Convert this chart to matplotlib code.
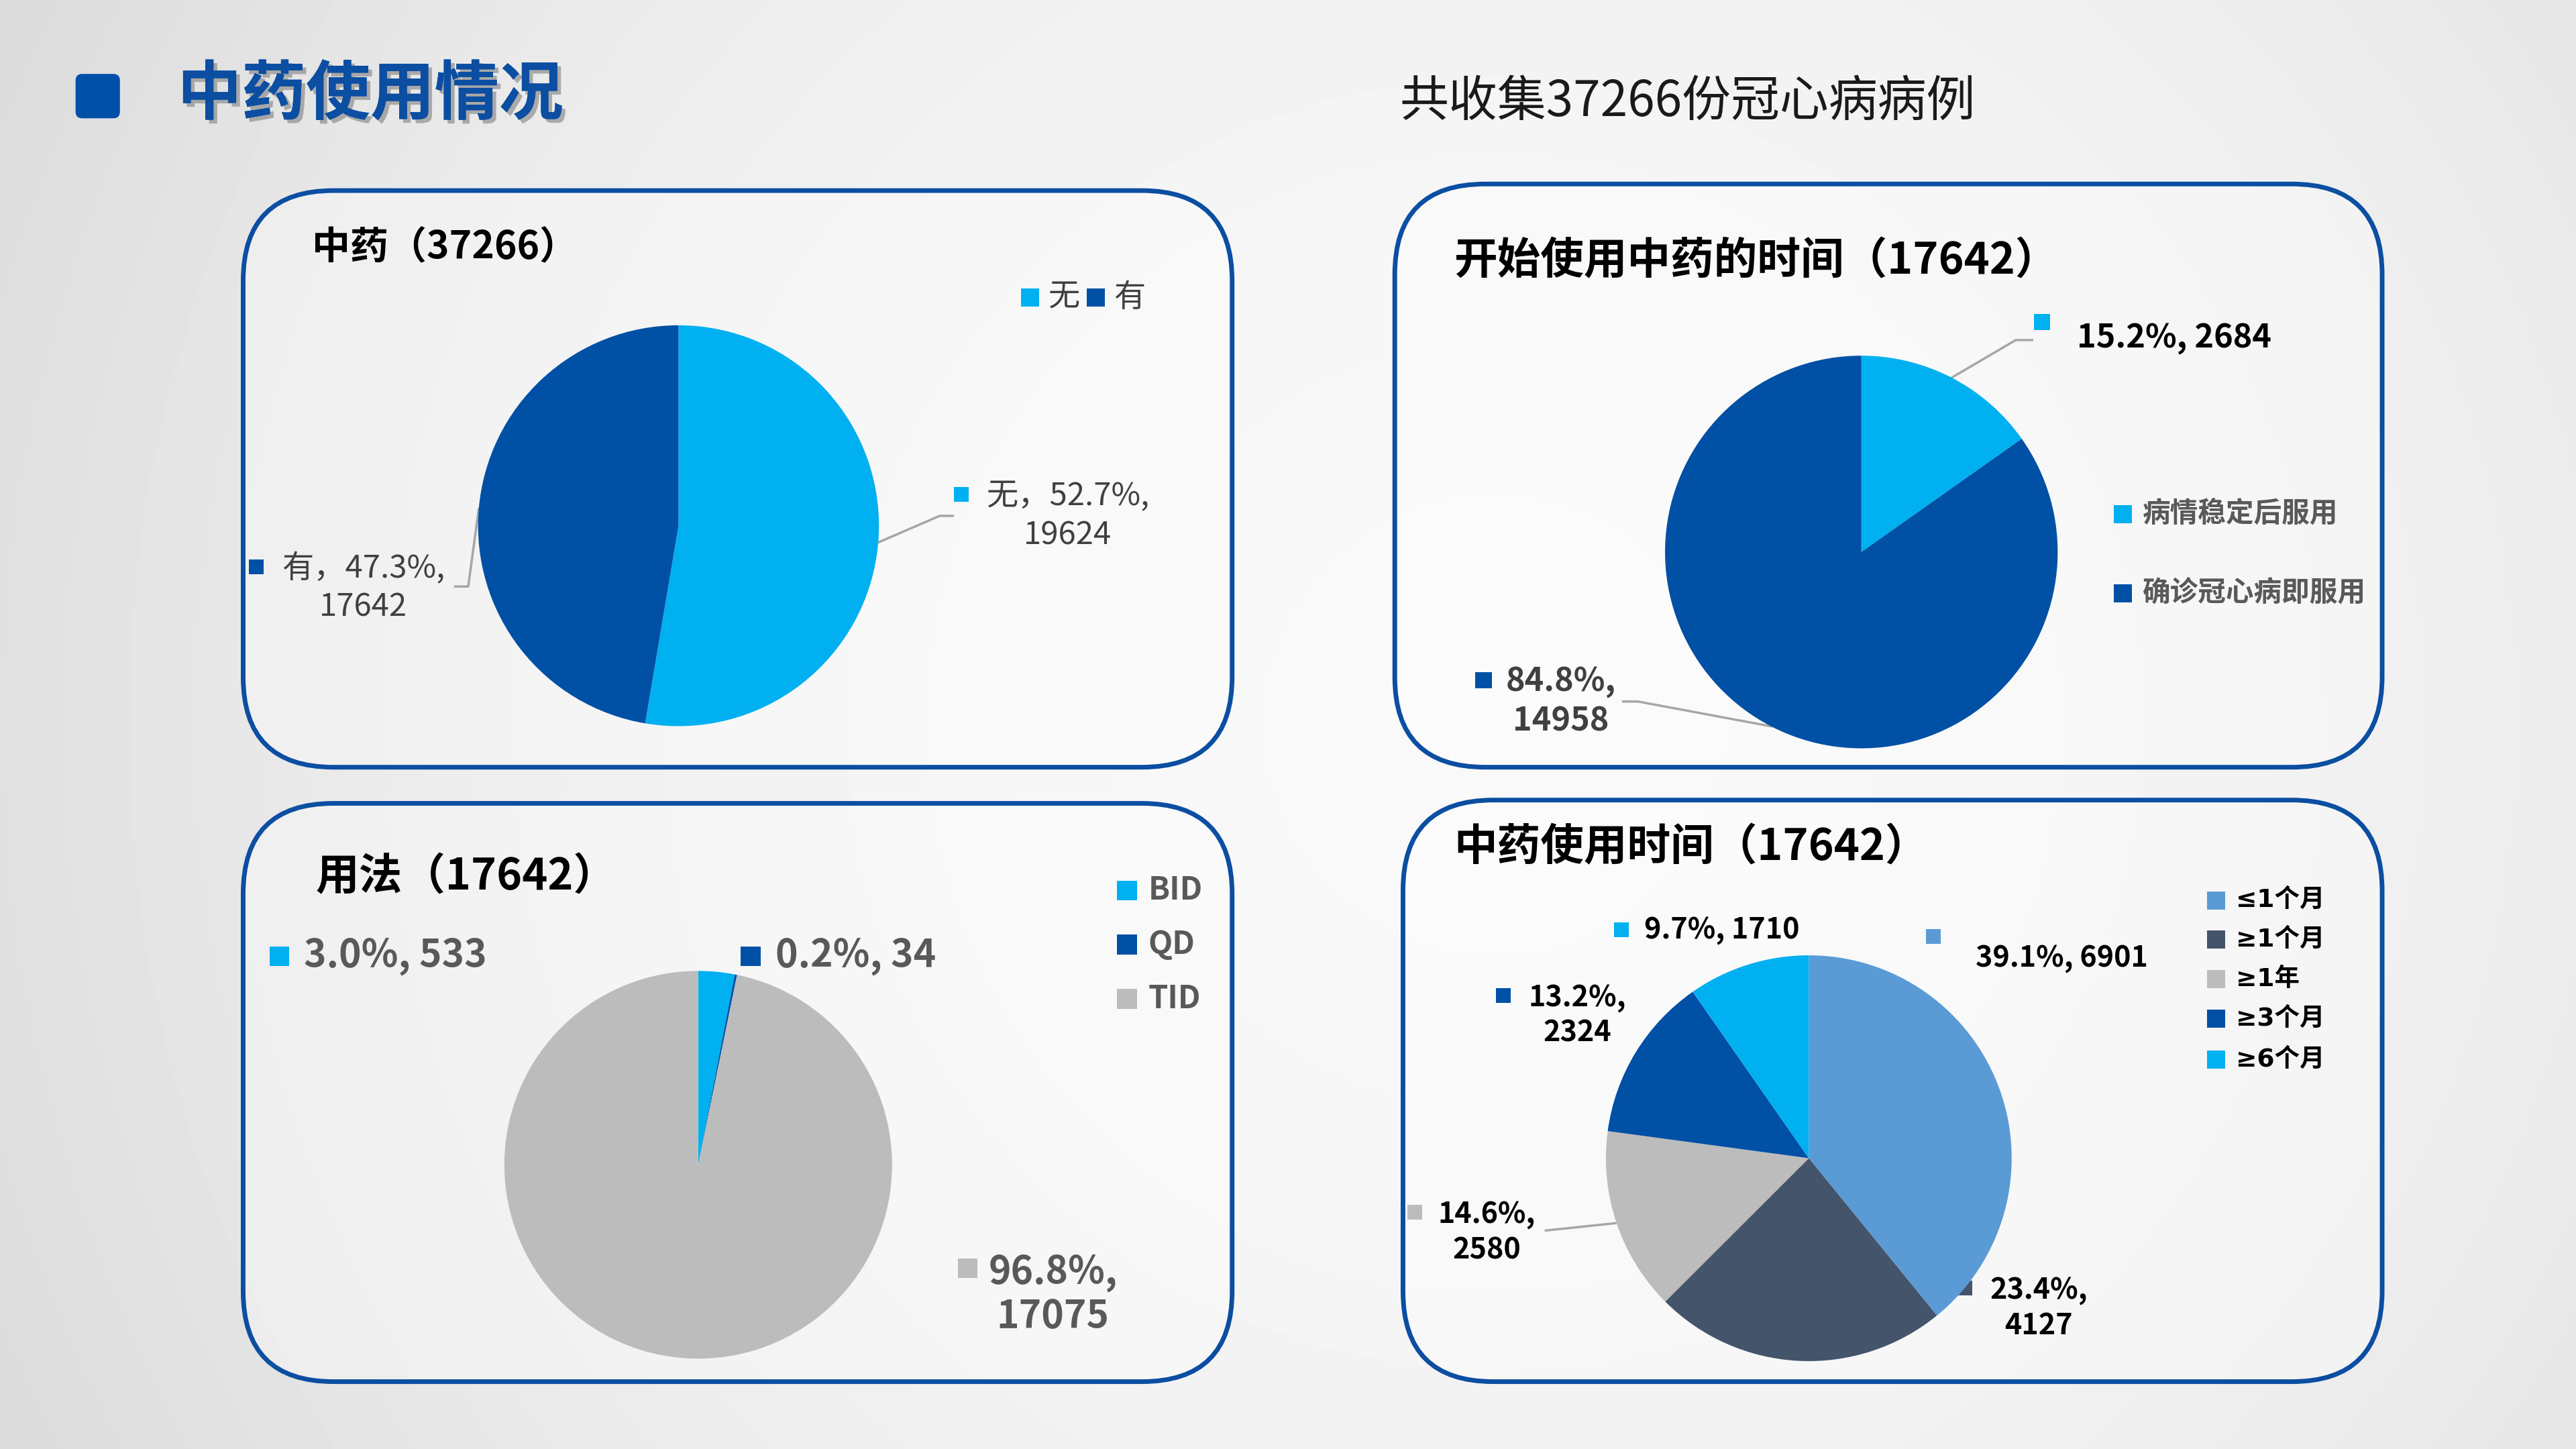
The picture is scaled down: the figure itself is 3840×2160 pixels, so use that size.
import numpy as np
import matplotlib.pyplot as plt
import matplotlib.patheffects as pe
from matplotlib.patches import FancyBboxPatch, Rectangle

plt.rcParams['font.family'] = ['Noto Sans CJK SC', 'DejaVu Sans']

# ---- data ----
herb_labels = ['无', '有']
herb_counts = [19624, 17642]

start_labels = ['病情稳定后服用', '确诊冠心病即服用']
start_counts = [2684, 14958]

usage_labels = ['BID', 'QD', 'TID']
usage_counts = [533, 34, 17075]

dur_labels = ['≤1个月', '≥1个月', '≥1年', '≥3个月', '≥6个月']
dur_counts = [6901, 4127, 2580, 2324, 1710]

# ---- style ----
LBLUE = '#00B0F0'
DBLUE = '#0050A5'
GREY = '#BCBCBC'
BORDER = '#0B4EA2'
herb_colors = [LBLUE, DBLUE]
start_colors = [LBLUE, DBLUE]
usage_colors = [LBLUE, DBLUE, GREY]
dur_colors = ['#5B9BD5', '#44546A', GREY, DBLUE, LBLUE]

W, H = 1568, 882  # layout units of the slide

fig = plt.figure(figsize=(38.4, 21.6), dpi=100)

# background gradient
bg = fig.add_axes([0, 0, 1, 1])
bg.axis('off')
yy, xx = np.mgrid[0:1:300j, 0:1:534j]
rr = np.sqrt(((xx - 0.58) * 1.78) ** 2 + (yy - 0.5) ** 2)
shade = 0.975 - 0.09 * rr ** 2
bg.imshow(shade, cmap='gray', vmin=0, vmax=1, aspect='auto', extent=[0, 1, 0, 1])

# overlay in slide units (y down)
ov = fig.add_axes([0, 0, 1, 1])
ov.set_xlim(0, W)
ov.set_ylim(H, 0)
ov.axis('off')
ov.patch.set_alpha(0)


def panel(x0, y0, x1, y1):
    p = FancyBboxPatch((x0, y0), x1 - x0, y1 - y0,
                       boxstyle='round,pad=0,rounding_size=55',
                       ec=BORDER, fc=(1, 1, 1, 0.35), lw=5, zorder=1)
    ov.add_patch(p)


def square(x, y, color, s=10):
    ov.add_patch(Rectangle((x - s / 2, y - s / 2), s, s, fc=color, ec='none', zorder=3))


def text(x, y, s, size, color='black', weight='bold', ha='left', **kw):
    ov.text(x, y, s, fontsize=size, color=color, fontweight=weight, ha=ha,
            va='center', multialignment='center', zorder=4, **kw)


def pie_at(cx, cy, r, counts, colors):
    ax = fig.add_axes([(cx - r) / W, 1 - (cy + r) / H, 2 * r / W, 2 * r / H])
    wedges, _ = ax.pie(counts, colors=colors, startangle=90, counterclock=False,
                       radius=1, wedgeprops=dict(linewidth=0))
    ax.set_xlim(-1, 1)
    ax.set_ylim(-1, 1)
    ax.axis('off')
    pts = []
    for w in wedges:
        a = np.deg2rad((w.theta1 + w.theta2) / 2)
        pts.append((cx + r * np.cos(a), cy - r * np.sin(a)))
    return pts


def pct(counts, i):
    return 100 * counts[i] / sum(counts)


def leader(pts):
    xs, ys = zip(*pts)
    ov.plot(xs, ys, color='#A6A6A6', lw=2.5, zorder=2)


LS = 1.25

# ---- header ----
ov.add_patch(FancyBboxPatch((46, 45), 27, 27, boxstyle='round,pad=0,rounding_size=4',
                            fc='#0050A8', ec='none'))
ov.text(108, 58, '中药使用情况', fontsize=69, color='#0B4EA2', fontweight='bold',
        va='center', ha='left',
        path_effects=[pe.withSimplePatchShadow(offset=(4, -4), shadow_rgbFace='#7f7f7f', alpha=0.6),
                      pe.Normal()])
ov.text(852, 62, '共收集37266份冠心病病例', fontsize=52.5, color='#1a1a1a', va='center', ha='left')

# ---- panels ----
panel(148, 116, 750, 467)
panel(849, 112, 1450, 467)
panel(148, 489, 750, 841)
panel(854, 487, 1450, 841)

# ---- panel 1: 中药 ----
text(190, 151, f'中药（{sum(herb_counts)}）', 41)
pts = pie_at(413, 320, 122, herb_counts, herb_colors)
c1 = '#404040'
square(585, 301, herb_colors[0], 9)
text(650, 314, f'{herb_labels[0]}，{pct(herb_counts, 0):.1f}%,\n{herb_counts[0]}', 34,
     color=c1, weight='normal', ha='center', linespacing=LS)
leader([pts[0], (572, 314), (580, 314)])
square(156, 345, herb_colors[1], 9)
text(221, 358, f'{herb_labels[1]}，{pct(herb_counts, 1):.1f}%,\n{herb_counts[1]}', 34,
     color=c1, weight='normal', ha='center', linespacing=LS)
leader([pts[1], (285, 357), (277, 357)])
square(627, 181, herb_colors[0], 11)
text(638, 181, herb_labels[0], 34, color=c1, weight='normal')
square(667, 181, herb_colors[1], 11)
text(678, 181, herb_labels[1], 34, color=c1, weight='normal')

# ---- panel 2: 开始使用中药的时间 ----
text(885, 159, f'开始使用中药的时间（{sum(start_counts)}）', 46.5)
pts = pie_at(1133, 336, 119.5, start_counts, start_colors)
square(1243, 196, start_colors[0], 10)
text(1264, 206, f'{pct(start_counts, 0):.1f}%, {start_counts[0]}', 35)
leader([pts[0], (1227, 207), (1237, 207)])
square(903, 414, start_colors[1], 10)
text(950, 427, f'{pct(start_counts, 1):.1f}%,\n{start_counts[1]}', 35,
     color='#404040', ha='center', linespacing=LS)
leader([pts[1], (997, 427), (988, 427)])
for i, y in enumerate([313, 361]):
    square(1292, y, start_colors[i], 11)
    text(1304, y, start_labels[i], 30, color='#595959')

# ---- panel 3: 用法 ----
text(192, 534, f'用法（{sum(usage_counts)}）', 46.5)
pie_at(425, 709, 118, usage_counts, usage_colors)
c3 = '#595959'
square(170, 582, usage_colors[0], 12)
text(185, 582, f'{pct(usage_counts, 0):.1f}%, {usage_counts[0]}', 41, color=c3)
square(457, 582, usage_colors[1], 12)
text(472, 582, f'{pct(usage_counts, 1):.1f}%, {usage_counts[1]}', 41, color=c3)
square(589, 772, usage_colors[2], 12)
text(641, 788, f'{pct(usage_counts, 2):.1f}%,\n{usage_counts[2]}', 41, color=c3,
     ha='center', linespacing=1.15)
for i, y in enumerate([542, 575, 608]):
    square(686, y, usage_colors[i], 12)
    text(699, y, usage_labels[i], 34, color=c3)

# ---- panel 4: 中药使用时间 ----
text(885, 516, f'中药使用时间（{sum(dur_counts)}）', 46.5)
pts = pie_at(1101, 705, 123.5, dur_counts, dur_colors)
fs4 = 31
square(1177, 570, dur_colors[0], 9)
text(1255, 583, f'{pct(dur_counts, 0):.1f}%, {dur_counts[0]}', fs4, ha='center')
square(1196, 784, dur_colors[1], 9)
text(1241, 796, f'{pct(dur_counts, 1):.1f}%,\n{dur_counts[1]}', fs4, ha='center', linespacing=LS)
square(861, 738, dur_colors[2], 9)
text(905, 750, f'{pct(dur_counts, 2):.1f}%,\n{dur_counts[2]}', fs4, ha='center', linespacing=LS)
leader([pts[2], (941, 749)])
square(915, 606, dur_colors[3], 9)
text(960, 618, f'{pct(dur_counts, 3):.1f}%,\n{dur_counts[3]}', fs4, ha='center', linespacing=LS)
square(987, 566, dur_colors[4], 9)
text(1001, 566, f'{pct(dur_counts, 4):.1f}%, {dur_counts[4]}', fs4)
for i, y in enumerate([548, 572, 596, 620, 645]):
    square(1349, y, dur_colors[i], 11)
    text(1361, y, dur_labels[i], 27, family=['DejaVu Sans', 'Noto Sans CJK SC'])

fig.savefig('out.png', dpi=100)
